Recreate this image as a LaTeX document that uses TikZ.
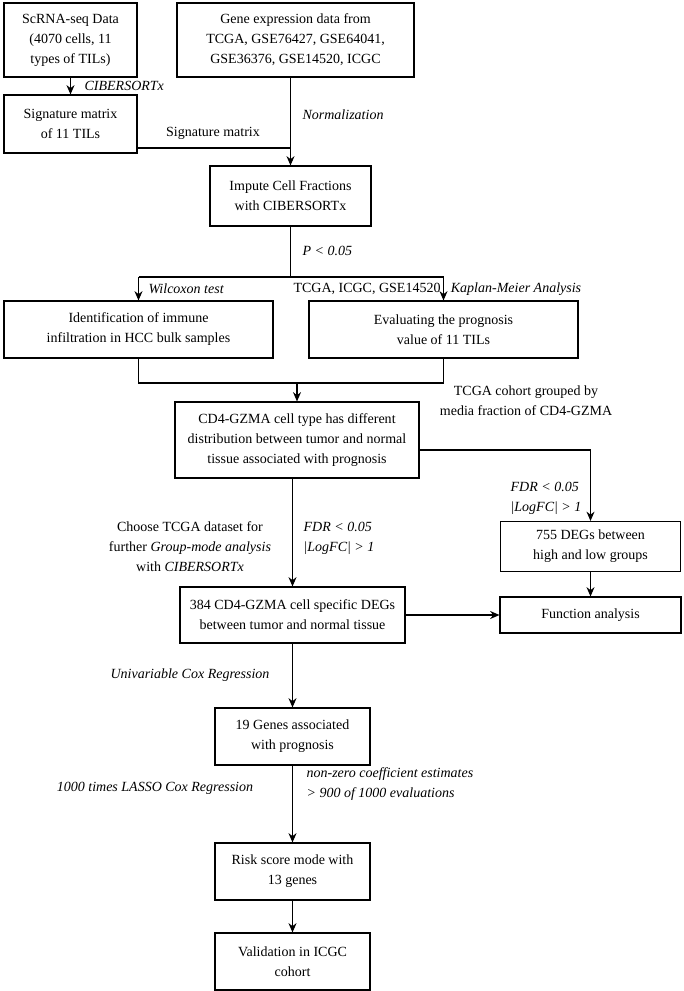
\documentclass[tikz,border=0pt]{standalone}
\usepackage{fontspec}
\setmainfont{Liberation Serif}
\usetikzlibrary{arrows.meta,positioning,calc}
\begin{document}
\begin{tikzpicture}[x=0.75pt,y=-0.75pt,
    every node/.style={font=\fontsize{10.5}{15}\selectfont},
    box/.style 2 args={draw,thick,align=center,inner sep=0pt,
        minimum width=#1*0.75pt,minimum height=#2*0.75pt},
    lab/.style={align=center,inner sep=1pt},
    ital/.style={lab,font=\fontsize{10.5}{15}\selectfont\itshape},
    arr/.style={thick,-{Stealth[length=7pt,width=6pt]}},
    ln/.style={thick}]

    % Frame of the page
    \useasboundingbox (0,0) rectangle (683,991);

    % Boxes
    \node[box={133}{74}] (scrna) at (70.5,40) {ScRNA-seq Data\\(4070 cells, 11\\types of TILs)};
    \node[box={237}{74}] (gene) at (295.5,40) {Gene expression data from\\TCGA, GSE76427, GSE64041,\\GSE36376, GSE14520, ICGC};
    \node[box={133}{58}] (sig) at (70.5,124) {Signature matrix\\of 11 TILs};
    \node[box={161}{60}] (impute) at (290.5,196) {Impute Cell Fractions\\with CIBERSORTx};
    \node[box={269}{57}] (ident) at (138.5,329.5) {Identification of immune\\infiltration in HCC bulk samples};
    \node[box={269}{57}] (eval) at (443.5,329.5) {Evaluating the prognosis\\value of 11 TILs};
    \node[box={244}{76}] (cd4) at (297,440) {CD4-GZMA cell type has different\\distribution between tumor and normal\\tissue associated with prognosis};
    \node[box={180}{50}] (degs) at (590.5,546.5) {755 DEGs between\\high and low groups};
    \node[box={225}{56}] (spec) at (292.5,615) {384 CD4-GZMA cell specific DEGs\\between tumor and normal tissue};
    \node[box={181}{36}] (func) at (590.5,615) {Function analysis};
    \node[box={155}{57}] (genes) at (292.5,736.5) {19 Genes associated\\with prognosis};
    \node[box={155}{57}] (risk) at (292.5,871.5) {Risk score mode with\\13 genes};
    \node[box={155}{57}] (valid) at (292.5,961.5) {Validation in ICGC\\cohort};

    % Helper points
    \coordinate (sigend) at (290.5,148);
    \coordinate (split) at (290.5,277);
    \coordinate (splitl) at (138.5,277);
    \coordinate (splitr) at (443.5,277);
    \coordinate (joinl) at (138.5,383);
    \coordinate (joinr) at (443.5,383);
    \coordinate (join) at (297,383);
    \coordinate (corner) at (590.5,450);

    % Connectors
    \draw[arr] (scrna) -- (sig);
    \draw[arr] (gene.south -| impute.north) -- (impute.north);
    \draw[ln] (sig.east |- sigend) -- (sigend);
    \draw[ln] (impute.south) -- (split);
    \draw[ln] (splitl) -- (splitr);
    \draw[arr] (splitl) -- (ident.north);
    \draw[arr] (splitr) -- (eval.north);
    \draw[ln] (ident.south) -- (joinl) -- (joinr) -- (eval.south);
    \draw[arr] (join) -- (cd4.north);
    \draw[ln] (cd4.east |- corner) -- (corner);
    \draw[arr] (corner) -- (degs.north);
    \draw[arr] (cd4.south -| spec.north) -- (spec.north);
    \draw[arr] (degs) -- (func);
    \draw[arr] (spec) -- (func);
    \draw[arr] (spec) -- (genes);
    \draw[arr] (genes) -- (risk);
    \draw[arr] (risk) -- (valid);

    % Labels
    \node[ital,anchor=west] (l1) at (83,86) {CIBERSORTx};
    \node[lab] (l2) at (213,133) {Signature matrix};
    \node[ital,anchor=west] (l3) at (301,115) {Normalization};
    \node[ital,anchor=west] (l4) at (301,251) {P < 0.05};
    \node[ital,anchor=west] (l5) at (147,289) {Wilcoxon test};
    \node[lab] (l6) at (367,289) {TCGA, ICGC, GSE14520};
    \node[ital] (l7) at (516,289) {Kaplan-Meier Analysis};
    \node[lab] (l8) at (526,401) {TCGA cohort grouped by\\media fraction of CD4-GZMA};
    \node[ital,align=left,anchor=west] (l9) at (509,498) {FDR < 0.05\\|LogFC| > 1};
    \node[lab] (l10) at (190,547) {Choose TCGA dataset for\\further \textit{Group-mode analysis}\\with \textit{CIBERSORTx}};
    \node[ital,align=left,anchor=west] (l11) at (302,538) {FDR < 0.05\\|LogFC| > 1};
    \node[ital] (l12) at (190,675) {Univariable Cox Regression};
    \node[ital] (l13) at (155,788) {1000 times LASSO Cox Regression};
    \node[ital,align=left,anchor=west] (l14) at (305,784) {non-zero coefficient estimates\\> 900 of 1000 evaluations};

\end{tikzpicture}
\end{document}
